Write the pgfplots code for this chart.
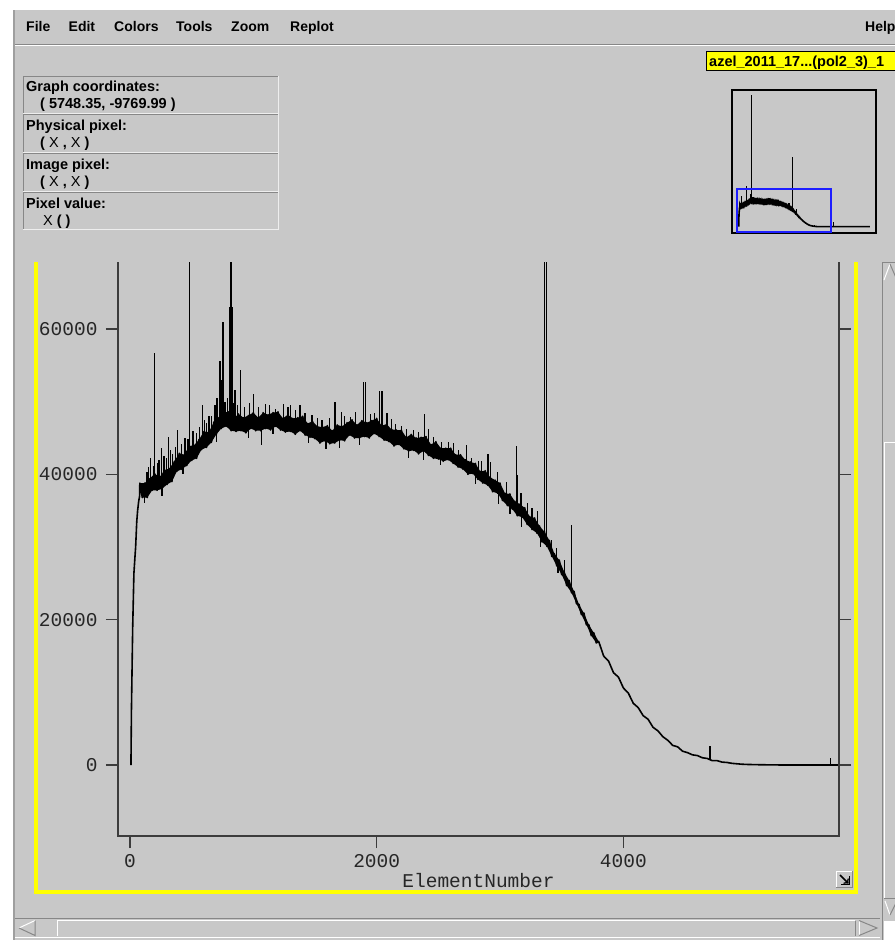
\documentclass[border=0pt]{standalone}
\usepackage{pgfplots}
\pgfplotsset{compat=1.18}
\usepackage{pgfplotstable}
\usepackage{fontspec}
\setmainfont{Liberation Sans}
\newfontfamily\monof{Liberation Mono}
\definecolor{guibg}{RGB}{200,200,200}
\definecolor{guidark}{RGB}{135,135,135}
\definecolor{guilight}{RGB}{238,238,238}
\definecolor{tagyellow}{RGB}{255,255,0}
\definecolor{viewblue}{RGB}{30,30,255}
\definecolor{axisgray}{RGB}{60,60,60}

% noisy spectrum: zig-zag samples
\pgfplotstableread{
x y
8 0
12 7600
22 18900
32 26400
40 28500
46 30000
55 33500
62 35000
70 36200
78 37000
80 38800
100 36800
120 38800
140 36800
160 39400
180 37800
200 40100
220 37800
240 39600
260 38000
280 40600
300 38600
320 40800
340 39000
360 41800
380 40400
400 42900
420 40700
440 42700
460 41200
480 43900
500 41900
520 44000
540 42200
560 44800
580 43400
600 45900
620 43700
640 45800
660 44400
680 47200
700 45500
720 47800
740 46300
760 48500
780 46600
800 48600
820 46000
840 47700
860 45900
880 48300
900 46000
920 47800
940 45700
960 48100
980 46300
1000 48500
1020 46000
1040 47800
1060 46000
1080 48500
1100 46300
1120 48200
1140 46100
1160 48500
1180 46600
1200 48600
1220 46100
1240 47700
1260 45800
1280 48200
1300 45900
1320 47700
1340 45500
1360 47800
1380 46000
1400 48000
1420 45400
1440 47000
1460 45100
1480 47300
1500 44900
1520 46600
1540 44300
1560 46500
1580 44600
1600 46700
1620 44200
1640 46000
1660 44300
1680 46800
1700 44700
1720 46600
1740 44600
1760 47100
1780 45400
1800 47500
1820 45000
1840 46800
1860 45000
1880 47400
1900 45200
1920 47100
1940 45000
1960 47400
1980 45600
2000 47700
2020 45200
2040 46700
2060 44700
2080 46900
2100 44500
2120 46200
2140 43900
2160 46100
2180 44100
2200 46100
2220 43500
2240 45100
2260 43200
2280 45500
2300 43300
2320 45000
2340 42800
2360 45100
2380 43200
2400 45200
2420 42600
2440 44100
2460 42200
2480 44500
2500 42100
2520 43600
2540 41800
2560 43600
2580 42000
2600 43600
2620 41500
2640 42700
2660 41000
2680 42700
2700 40700
2720 42000
2740 40000
2760 41700
2780 40100
2800 41500
2820 39300
2840 40400
2860 38800
2880 40500
2900 38500
2920 39600
2940 37600
2960 39200
2980 37400
3000 38800
3020 36400
3040 37400
3060 35700
3080 37300
3100 35200
3120 36300
3140 34300
3160 35900
3180 34100
3200 35400
3220 33100
3240 34200
3260 32400
3280 34000
3300 31900
3320 32900
3340 30700
3360 32100
3380 30100
3400 30900
3420 28700
3440 29100
3460 27400
3480 28200
3500 26200
3520 26600
3540 24700
3560 25400
3580 23700
3600 23900
3620 22200
3640 22100
3660 20700
3680 20900
3700 19300
3720 19300
3740 17800
3760 18200
3780 16800
3800 17000
3840 15000
3880 14300
3920 12700
3960 12100
4000 10600
4040 9900
4080 8500
4120 7900
4160 6800
4200 6300
4240 5200
4280 4700
4320 3900
4360 3400
4400 2700
4440 2500
4480 1900
4520 1700
4560 1400
4600 1300
4640 1000
4680 900
4720 600
4760 600
4800 400
4840 350
4880 230
4920 170
4960 110
5000 80
5100 40
5200 20
5300 0
8170 0
}\spec

% outline of the noise band: upper edge left to right, lower edge right to left
\pgfplotstableread{
x y
80 38800
120 38800
160 39400
200 40100
240 39600
280 40600
320 40800
360 41800
400 42900
440 42700
480 43900
520 44000
560 44800
600 45900
640 45800
680 47200
720 47800
760 48500
800 48600
840 47700
880 48300
920 47800
960 48100
1000 48500
1040 47800
1080 48500
1120 48200
1160 48500
1200 48600
1240 47700
1280 48200
1320 47700
1360 47800
1400 48000
1440 47000
1480 47300
1520 46600
1560 46500
1600 46700
1640 46000
1680 46800
1720 46600
1760 47100
1800 47500
1840 46800
1880 47400
1920 47100
1960 47400
2000 47700
2040 46700
2080 46900
2120 46200
2160 46100
2200 46100
2240 45100
2280 45500
2320 45000
2360 45100
2400 45200
2440 44100
2480 44500
2520 43600
2560 43600
2600 43600
2640 42700
2680 42700
2720 42000
2760 41700
2800 41500
2840 40400
2880 40500
2920 39600
2960 39200
3000 38800
3040 37400
3080 37300
3120 36300
3160 35900
3200 35400
3240 34200
3280 34000
3320 32900
3360 32100
3400 30900
3440 29100
3480 28200
3520 26600
3560 25400
3600 23900
3640 22100
3680 20900
3720 19300
3760 18200
3800 17000
3780 16800
3740 17800
3700 19300
3660 20700
3620 22200
3580 23700
3540 24700
3500 26200
3460 27400
3420 28700
3380 30100
3340 30700
3300 31900
3260 32400
3220 33100
3180 34100
3140 34300
3100 35200
3060 35700
3020 36400
2980 37400
2940 37600
2900 38500
2860 38800
2820 39300
2780 40100
2740 40000
2700 40700
2660 41000
2620 41500
2580 42000
2540 41800
2500 42100
2460 42200
2420 42600
2380 43200
2340 42800
2300 43300
2260 43200
2220 43500
2180 44100
2140 43900
2100 44500
2060 44700
2020 45200
1980 45600
1940 45000
1900 45200
1860 45000
1820 45000
1780 45400
1740 44600
1700 44700
1660 44300
1620 44200
1580 44600
1540 44300
1500 44900
1460 45100
1420 45400
1380 46000
1340 45500
1300 45900
1260 45800
1220 46100
1180 46600
1140 46100
1100 46300
1060 46000
1020 46000
980 46300
940 45700
900 46000
860 45900
820 46000
780 46600
740 46300
700 45500
660 44400
620 43700
580 43400
540 42200
500 41900
460 41200
420 40700
380 40400
340 39000
300 38600
260 38000
220 37800
180 37800
140 36800
100 36800
}\band

% narrow spikes: base, peak, gap
\pgfplotstableread{
x y
120 38000
120 36000
nan nan
137 37800
137 40300
nan nan
150 38200
150 41000
nan nan
169 38300
169 42200
nan nan
190 38600
190 41200
nan nan
201 38700
201 56700
nan nan
222 38800
222 41500
nan nan
235 39000
235 42000
nan nan
255 39200
255 43600
nan nan
260 39200
260 37000
nan nan
277 39400
277 42500
nan nan
295 39600
295 42300
nan nan
314 40100
314 45100
nan nan
330 40200
330 43300
nan nan
345 40400
345 42800
nan nan
370 41000
370 43800
nan nan
384 41200
384 46100
nan nan
420 41800
420 44200
nan nan
430 42000
430 40000
nan nan
445 42200
445 45000
nan nan
470 42600
470 44800
nan nan
484 42700
484 75000
nan nan
510 43000
510 46000
nan nan
538 43400
538 45700
nan nan
565 43800
565 46500
nan nan
586 44200
586 49500
nan nan
605 44500
605 47500
nan nan
620 44800
620 47000
nan nan
640 45300
640 48000
nan nan
660 45600
660 48000
nan nan
690 46600
690 49500
nan nan
700 46600
700 44500
nan nan
705 46800
705 50500
nan nan
731 47300
731 55600
nan nan
745 47500
745 53000
nan nan
753 47500
753 61000
nan nan
770 47400
770 50000
nan nan
790 47300
790 50500
nan nan
812 47200
812 63000
nan nan
818 47200
818 242000
nan nan
826 47100
826 63000
nan nan
840 47100
840 49800
nan nan
851 47100
851 51600
nan nan
870 47100
870 49500
nan nan
895 47000
895 54300
nan nan
930 47000
930 49300
nan nan
960 47000
960 45000
nan nan
970 47000
970 49800
nan nan
1001 47100
1001 51000
nan nan
1040 47200
1040 49200
nan nan
1064 47200
1064 44000
nan nan
1100 47300
1100 49700
nan nan
1129 47400
1129 49500
nan nan
1160 47400
1160 45500
nan nan
1180 47300
1180 49000
nan nan
1247 47100
1247 49700
nan nan
1280 47000
1280 49300
nan nan
1304 46900
1304 49500
nan nan
1340 46800
1340 48900
nan nan
1379 46700
1379 49500
nan nan
1420 46500
1420 48500
nan nan
1450 46400
1450 44300
nan nan
1476 46400
1476 48200
nan nan
1520 45800
1520 47800
nan nan
1556 45300
1556 47500
nan nan
1589 45200
1589 43500
nan nan
1620 45300
1620 47700
nan nan
1661 45500
1661 50000
nan nan
1700 45700
1700 43600
nan nan
1715 45800
1715 48600
nan nan
1740 45900
1740 48000
nan nan
1790 46100
1790 47900
nan nan
1830 46100
1830 48600
nan nan
1860 46200
1860 44100
nan nan
1893 46200
1893 52700
nan nan
1912 46200
1912 52700
nan nan
1952 46300
1952 48300
nan nan
1980 46300
1980 48500
nan nan
2022 46300
2022 51500
nan nan
2042 46100
2042 51500
nan nan
2083 45700
2083 48500
nan nan
2120 45400
2120 47600
nan nan
2153 45000
2153 46900
nan nan
2200 44700
2200 46700
nan nan
2242 44500
2242 46200
nan nan
2260 44300
2260 42300
nan nan
2300 44300
2300 46100
nan nan
2339 44100
2339 45800
nan nan
2380 43900
2380 42000
nan nan
2387 43900
2387 48300
nan nan
2419 43700
2419 46300
nan nan
2460 43300
2460 45200
nan nan
2520 43100
2520 41300
nan nan
2524 43000
2524 44500
nan nan
2580 42600
2580 44500
nan nan
2620 42400
2620 44300
nan nan
2661 41900
2661 43400
nan nan
2728 41100
2728 44000
nan nan
2766 40800
2766 42300
nan nan
2800 40500
2800 38700
nan nan
2823 40100
2823 41900
nan nan
2850 39800
2850 41900
nan nan
2903 39200
2903 42800
nan nan
2922 38900
2922 41700
nan nan
2980 38000
2980 40300
nan nan
2990 37800
2990 35900
nan nan
3050 36800
3050 38900
nan nan
3080 36300
3080 34600
nan nan
3134 35400
3134 43900
nan nan
3141 35300
3141 39900
nan nan
3169 34800
3169 37500
nan nan
3175 34600
3175 32800
nan nan
3220 33900
3220 36000
nan nan
3260 33300
3260 35400
nan nan
3306 32600
3306 35000
nan nan
3330 31800
3330 30000
nan nan
3362 31200
3362 128000
nan nan
3378 30800
3378 120000
nan nan
3420 29300
3420 31000
nan nan
3460 27800
3460 29800
nan nan
3470 27600
3470 26400
nan nan
3520 26400
3520 28200
nan nan
3581 24100
3581 33000
nan nan
4701 750
4701 2600
nan nan
5677 0
5677 900
nan nan
5890 0
5890 8000
}\spikes

\newcommand{\guib}{\bfseries\fontsize{14.5bp}{16bp}\selectfont}
\newcommand{\guim}{\bfseries\fontsize{14bp}{16bp}\selectfont}

\begin{document}
\begin{tikzpicture}
\useasboundingbox (0,0) rectangle (895bp,-940bp);
\clip (0,0) rectangle (895bp,-940bp);
\begin{scope}[x=1bp,y=-1bp]
% window background
\fill[white] (0,0) rectangle (895,940);
\fill[guibg] (14,10) rectangle (895,940);
\draw[guidark!80, line width=2bp] (14,10) -- (14,940);
% menu bar
\foreach \t/\xx in {File/26,Edit/68.5,Colors/114,Tools/176,Zoom/231,Replot/290,Help/865}
  \node[anchor=base west, inner sep=0, font=\guim] at (\xx,31) {\t};
\draw[guidark, line width=1bp] (15,44.5) -- (895,44.5);
\draw[white, line width=1bp] (15,45.5) -- (895,45.5);
% yellow tag
\fill[tagyellow] (706,51) rectangle (897,70);
\draw[black, line width=0.8bp] (706,51) rectangle (897,70);
\node[anchor=base west, inner sep=0, font=\guib] at (709,66) {azel\_2011\_17...(pol2\_3)\_1};
% info panel
\foreach \ya/\yb in {76/113,114/152,153/191,192/229}{
  \draw[guidark, line width=1bp] (23,\yb) -- (23,\ya) -- (278,\ya);
  \draw[guilight, line width=1bp] (23,\yb) -- (278,\yb) -- (278,\ya);
}
\node[anchor=base west, inner sep=0, font=\guib] at (26,91) {Graph coordinates:};
\node[anchor=base west, inner sep=0, font=\guib] at (40,108) {( 5748.35, -9769.99 )};
\node[anchor=base west, inner sep=0, font=\guib] at (26,130) {Physical pixel:};
\node[anchor=base west, inner sep=0, font=\guib] at (40,147) {( {\mdseries X} , {\mdseries X} )};
\node[anchor=base west, inner sep=0, font=\guib] at (26,169) {Image pixel:};
\node[anchor=base west, inner sep=0, font=\guib] at (40,186) {( {\mdseries X} , {\mdseries X} )};
\node[anchor=base west, inner sep=0, font=\guib] at (26,208) {Pixel value:};
\node[anchor=base west, inner sep=0, font=\guib] at (43,225) {{\mdseries X} ( )};
% yellow canvas frame
\draw[tagyellow, line width=3.5bp] (36,262) -- (36,892) -- (856,892) -- (856,262);
% resize icon
\fill[guibg] (836,871) rectangle (852,887);
\draw[white, line width=1bp] (836,887) -- (836,871) -- (852,871);
\draw[guidark, line width=1bp] (852,871) -- (852,887) -- (836,887);
\draw[black, line width=1.6bp, ->] (840,875) -- (848.5,883.5);
\draw[black, line width=1.2bp] (849.5,876) -- (849.5,884.5) -- (841,884.5);
% vertical scrollbar
\draw[guidark, line width=1bp] (882.5,940) -- (882.5,262.5) -- (897,262.5);
\draw[white, line width=1bp] (884,280) -- (890,264) ;
\draw[guidark, line width=1bp] (890,264) -- (897,280);
\draw[white, line width=1bp] (884,442) -- (897,442);
\draw[white, line width=1bp] (884,442) -- (884,898);
\draw[guidark, line width=1bp] (884,898) -- (897,898);
\draw[white, line width=1bp] (885,901) -- (890,915);
\draw[guidark, line width=1bp] (890,915) -- (897,901);
\fill[white] (884,921) rectangle (897,940);
% horizontal scrollbar
\draw[guidark, line width=1bp] (15,918.5) -- (880,918.5);
\draw[white, line width=1bp] (15,937.5) -- (880,937.5);
\draw[white, line width=1bp] (35,920.5) -- (19,928) ;
\draw[guidark, line width=1bp] (19,928) -- (35,935.5) -- (35,920.5);
\draw[white, line width=1bp] (57,920.5) -- (57,935.5);
\draw[white, line width=1bp] (57,920.5) -- (855,920.5);
\draw[guidark, line width=1bp] (855,920.5) -- (855,935.5);
\draw[white, line width=1bp] (859,920.5) -- (859,935.5) ;
\draw[guidark, line width=1bp] (859,920.5) -- (877,928) -- (859,935.5);
\end{scope}

% main plot
\begin{axis}[
  at={(118bp,-836bp)}, anchor=south west,
  scale only axis, width=721bp, height=574bp,
  xmin=-97, xmax=5748, ymin=-9770, ymax=69220,
  axis line style={draw=none},
  scaled x ticks=false, scaled y ticks=false,
  tick align=outside, xtick pos=left, ytick pos=both,
  xtick={0,2000,4000}, xticklabels={0,2000,4000},
  ytick={0,20000,40000,60000}, yticklabels={0,20000,40000,60000},
  minor tick num=0,
  major tick length=12bp,
  major tick style={line width=1.2bp, draw=axisgray},
  tick label style={font=\monof\fontsize{19.5bp}{21bp}\selectfont, text=black!85},
  yticklabel style={xshift=-5bp},
  xticklabel style={yshift=-3bp},
  xlabel={ElementNumber},
  xlabel style={font=\monof\fontsize{19.5bp}{21bp}\selectfont, text=black!85, at={(axis description cs:0.5,0)}, anchor=center, yshift=-45bp},
  clip mode=individual,
]
\addplot[fill=black, draw=none] table {\band};
\addplot[black, line width=1.6bp, line join=round] table {\spec};
\addplot[black, line width=1.3bp, unbounded coords=jump] table {\spikes};
\draw[axisgray, line width=1.4bp] (rel axis cs:0,1) -- (rel axis cs:0,0) -- (rel axis cs:1,0) -- (rel axis cs:1,1);
\end{axis}

% overview thumbnail
\begin{axis}[
  at={(732bp,-233bp)}, anchor=south west,
  scale only axis, width=144bp, height=143bp,
  xmin=-410, xmax=8545, ymin=-11600, ymax=251300,
  ticks=none,
  axis line style={black, line width=1.4bp},
  clip mode=individual,
]
\addplot[fill=black, draw=none] table {\band};
\addplot[black, line width=1.6bp] table {\spec};
\addplot[black, line width=1.1bp, unbounded coords=jump] table {\spikes};
\draw[viewblue, line width=1.6bp] (axis cs:-97,-9770) rectangle (axis cs:5748,69220);
\end{axis}
\end{tikzpicture}
\end{document}
